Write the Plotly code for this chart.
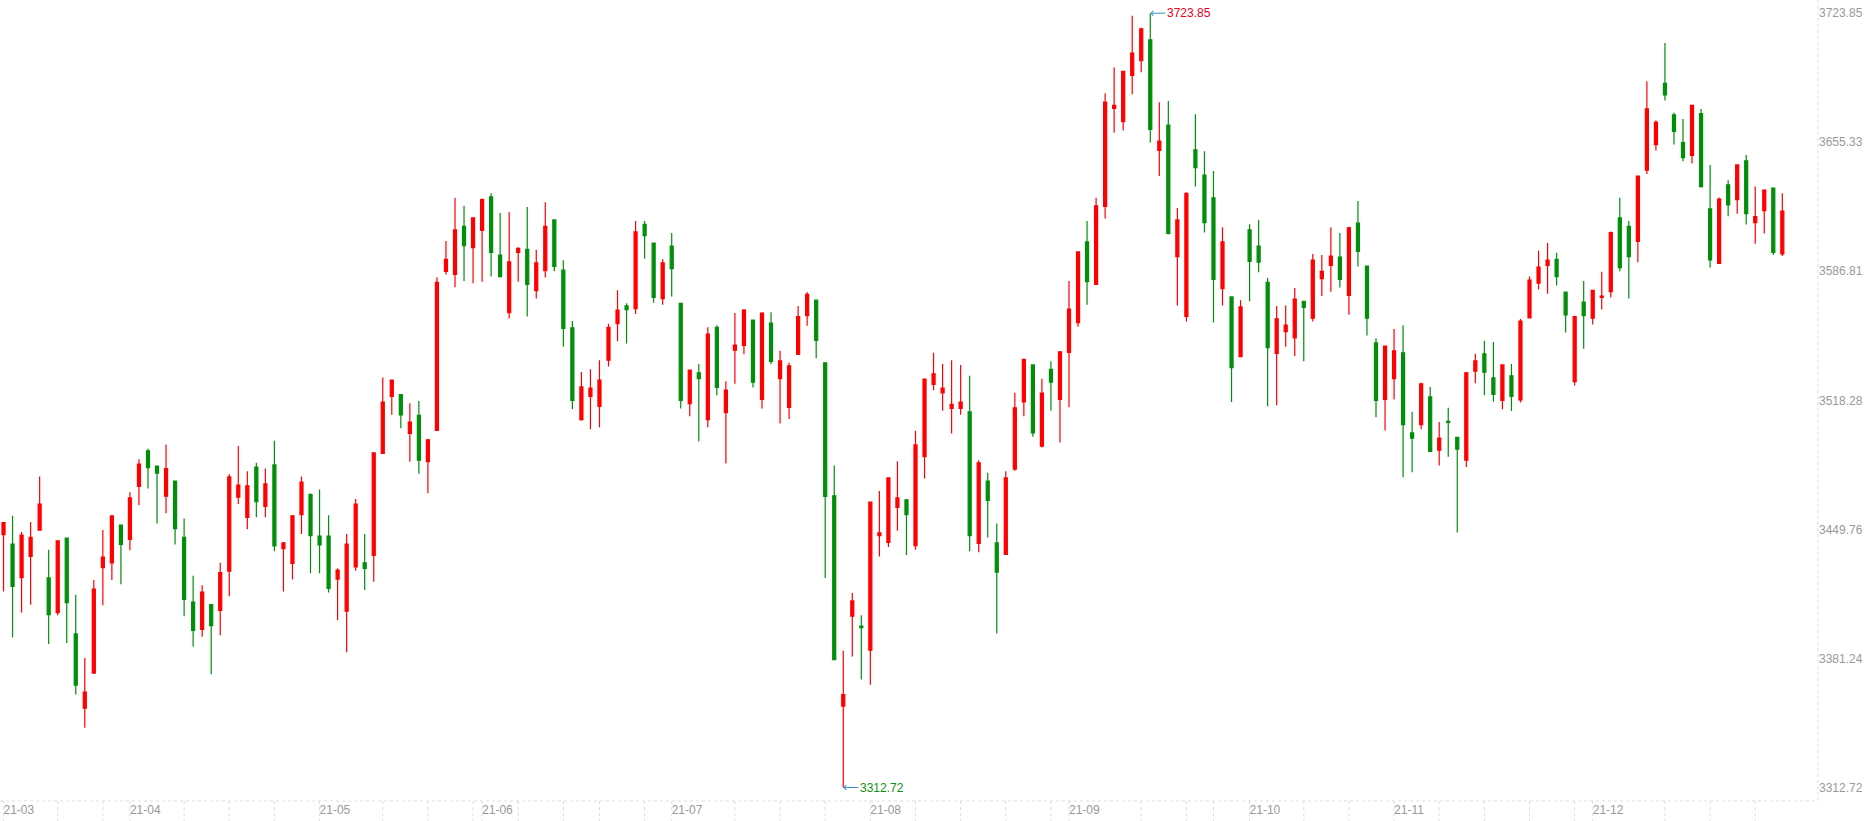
import plotly.graph_objects as go
import pandas as pd

# trading calendar, SSE 2021-03-12 .. 2021-12-30
holidays = ["2021-04-05", "2021-05-03", "2021-05-04", "2021-05-05", "2021-06-14",
            "2021-09-20", "2021-09-21", "2021-10-01", "2021-10-04", "2021-10-05",
            "2021-10-06", "2021-10-07"]
dates = [d for d in pd.bdate_range("2021-03-12", "2021-12-30")
         if d.strftime("%Y-%m-%d") not in holidays]

opens = [3447.0, 3442.0, 3424.2, 3435.4, 3449.3, 3424.0, 3405.6, 3445.1, 3394.3, 3354.8,
         3373.4, 3429.5, 3432.0, 3452.0, 3444.5, 3472.6, 3491.5, 3483.4, 3467.4, 3475.4,
         3445.6, 3411.2, 3396.7, 3409.8, 3406.7, 3427.6, 3466.9, 3456.2, 3482.9, 3462.0,
         3484.0, 3439.5, 3431.7, 3457.6, 3468.2, 3446.2, 3446.2, 3423.4, 3406.4, 3429.8,
         3432.0, 3435.9, 3490.1, 3520.4, 3521.3, 3500.7, 3510.3, 3485.7, 3502.3, 3586.8,
         3585.1, 3610.7, 3599.3, 3608.5, 3626.3, 3595.4, 3564.8, 3596.8, 3598.5, 3576.5,
         3587.1, 3614.1, 3587.4, 3556.8, 3508.1, 3520.4, 3515.1, 3539.6, 3559.0, 3568.4,
         3567.0, 3611.8, 3601.8, 3572.3, 3600.2, 3569.8, 3516.5, 3532.9, 3508.1, 3557.1,
         3511.7, 3544.9, 3547.4, 3560.9, 3518.8, 3559.3, 3529.8, 3514.6, 3542.7, 3563.2,
         3571.5, 3538.2, 3467.6, 3355.9, 3403.7, 3398.4, 3385.6, 3446.5, 3442.9, 3461.5,
         3465.4, 3441.2, 3488.4, 3526.8, 3522.3, 3514.0, 3514.0, 3512.2, 3442.3, 3475.4,
         3442.6, 3436.5, 3481.8, 3517.4, 3537.1, 3494.0, 3534.8, 3518.8, 3543.8, 3559.6,
         3602.4, 3579.9, 3621.3, 3673.3, 3666.3, 3690.8, 3698.6, 3709.7, 3651.0, 3664.4,
         3594.6, 3562.8, 3651.3, 3637.9, 3625.8, 3577.6, 3573.2, 3541.5, 3608.8, 3600.2,
         3581.0, 3543.2, 3554.8, 3551.5, 3570.9, 3561.9, 3582.9, 3589.9, 3594.3, 3574.0,
         3612.4, 3589.6, 3548.8, 3518.8, 3529.8, 3543.5, 3501.0, 3505.4, 3520.1, 3491.8,
         3507.1, 3498.7, 3486.5, 3533.8, 3543.0, 3530.2, 3518.2, 3531.3, 3518.5, 3562.0,
         3580.5, 3589.9, 3593.2, 3575.7, 3528.2, 3570.4, 3561.9, 3572.9, 3576.0, 3615.2,
         3610.7, 3602.7, 3640.5, 3654.1, 3686.6, 3669.9, 3655.2, 3648.3, 3670.5, 3619.9,
         3591.0, 3632.7, 3624.9, 3645.5, 3612.7, 3619.0, 3631.0, 3596.0]
highs = [3453.6, 3457.0, 3448.4, 3453.7, 3477.9, 3439.0, 3443.7, 3445.1, 3415.1, 3381.5,
         3422.9, 3449.5, 3457.0, 3452.0, 3469.5, 3487.0, 3492.6, 3483.4, 3494.8, 3475.4,
         3455.6, 3425.1, 3420.1, 3409.8, 3432.0, 3479.0, 3494.0, 3480.7, 3485.1, 3482.1,
         3496.8, 3443.1, 3457.0, 3477.9, 3469.0, 3470.9, 3457.3, 3429.2, 3447.3, 3465.9,
         3447.3, 3490.4, 3530.4, 3529.0, 3521.3, 3516.8, 3517.9, 3497.9, 3583.7, 3602.9,
         3625.8, 3621.6, 3615.2, 3625.5, 3628.2, 3617.7, 3618.3, 3599.6, 3621.0, 3598.2,
         3623.5, 3614.1, 3592.7, 3560.4, 3533.4, 3534.8, 3539.6, 3559.0, 3576.7, 3569.8,
         3613.5, 3613.5, 3601.8, 3593.2, 3607.1, 3569.8, 3534.3, 3537.6, 3557.1, 3558.2,
         3528.4, 3564.6, 3566.8, 3560.9, 3565.1, 3565.1, 3544.6, 3538.2, 3568.4, 3575.8,
         3571.5, 3538.2, 3483.7, 3385.3, 3416.0, 3404.2, 3464.3, 3470.1, 3477.1, 3485.9,
         3465.9, 3502.1, 3529.6, 3543.5, 3537.6, 3539.6, 3537.1, 3531.3, 3486.5, 3479.8,
         3452.9, 3480.7, 3522.3, 3540.1, 3537.1, 3529.8, 3539.0, 3544.1, 3581.6, 3597.1,
         3613.5, 3625.8, 3681.3, 3695.0, 3693.0, 3722.5, 3716.1, 3723.85, 3676.6, 3677.2,
         3620.4, 3628.8, 3670.2, 3650.5, 3640.0, 3610.2, 3573.2, 3571.5, 3611.8, 3614.1,
         3583.3, 3568.4, 3568.7, 3577.9, 3570.9, 3596.0, 3595.4, 3610.2, 3607.1, 3610.5,
         3624.1, 3589.6, 3551.2, 3547.1, 3556.2, 3558.2, 3512.2, 3527.6, 3525.4, 3506.8,
         3514.3, 3498.7, 3533.4, 3543.0, 3549.9, 3549.3, 3537.1, 3537.6, 3561.5, 3584.0,
         3597.7, 3601.8, 3596.6, 3575.7, 3563.2, 3581.6, 3576.7, 3586.6, 3607.9, 3625.8,
         3613.5, 3637.4, 3687.7, 3666.9, 3708.0, 3671.0, 3667.7, 3674.9, 3673.0, 3643.3,
         3626.0, 3635.2, 3643.3, 3648.6, 3631.8, 3630.4, 3631.0, 3628.2]
lows = [3416.8, 3392.3, 3405.6, 3409.8, 3449.3, 3388.9, 3404.2, 3389.5, 3362.1, 3344.5,
        3373.4, 3409.5, 3422.9, 3420.7, 3438.7, 3462.6, 3471.5, 3452.9, 3458.4, 3441.8,
        3403.7, 3387.5, 3392.8, 3372.8, 3393.6, 3414.3, 3463.2, 3449.8, 3456.2, 3456.2,
        3438.1, 3416.8, 3423.1, 3447.3, 3426.5, 3426.5, 3416.2, 3401.5, 3384.5, 3427.8,
        3417.6, 3422.0, 3490.1, 3510.6, 3503.5, 3485.7, 3479.3, 3469.0, 3502.3, 3585.1,
        3578.4, 3581.6, 3580.5, 3581.3, 3584.0, 3584.0, 3561.7, 3581.3, 3562.8, 3572.3,
        3583.5, 3586.8, 3546.8, 3513.5, 3507.5, 3502.9, 3504.0, 3536.3, 3549.6, 3548.5,
        3564.2, 3593.5, 3570.1, 3569.0, 3573.4, 3514.0, 3509.8, 3496.5, 3504.0, 3521.0,
        3484.8, 3527.1, 3542.7, 3525.1, 3514.0, 3537.4, 3506.0, 3508.4, 3542.7, 3557.9,
        3540.7, 3424.0, 3380.6, 3312.72, 3382.3, 3370.0, 3367.3, 3435.4, 3440.4, 3449.0,
        3436.2, 3439.0, 3476.8, 3523.7, 3512.8, 3500.7, 3510.6, 3438.1, 3437.6, 3445.4,
        3394.5, 3436.5, 3480.9, 3509.8, 3499.0, 3493.2, 3512.8, 3495.9, 3514.6, 3557.4,
        3569.0, 3579.9, 3614.9, 3660.5, 3661.6, 3680.8, 3692.5, 3655.2, 3637.4, 3606.3,
        3568.7, 3560.1, 3631.8, 3607.4, 3559.6, 3568.7, 3517.4, 3541.5, 3570.9, 3586.3,
        3515.1, 3515.7, 3546.8, 3541.8, 3539.0, 3560.1, 3573.7, 3576.0, 3578.2, 3563.8,
        3589.4, 3552.7, 3509.3, 3502.3, 3518.8, 3477.4, 3480.1, 3502.9, 3491.2, 3483.7,
        3488.4, 3448.1, 3482.9, 3527.4, 3521.0, 3517.6, 3513.5, 3512.6, 3517.1, 3562.0,
        3577.1, 3574.9, 3579.3, 3554.3, 3526.2, 3545.7, 3558.5, 3566.5, 3572.9, 3586.8,
        3572.3, 3591.6, 3638.5, 3651.0, 3677.5, 3654.1, 3645.2, 3644.1, 3631.3, 3588.8,
        3591.0, 3616.0, 3617.4, 3611.6, 3601.5, 3606.9, 3595.4, 3594.9]
closes = [3453.4, 3419.5, 3446.8, 3445.6, 3463.2, 3404.5, 3443.7, 3410.9, 3367.1, 3363.4,
          3418.1, 3435.1, 3457.0, 3441.8, 3466.5, 3484.5, 3482.6, 3479.6, 3482.1, 3450.1,
          3412.6, 3396.2, 3416.5, 3398.7, 3426.8, 3477.6, 3473.3, 3472.9, 3464.5, 3474.0,
          3441.0, 3442.6, 3457.0, 3474.9, 3446.5, 3441.5, 3418.4, 3428.1, 3442.0, 3463.2,
          3429.0, 3490.4, 3517.4, 3529.0, 3510.6, 3506.8, 3486.5, 3497.3, 3581.0, 3593.2,
          3608.8, 3600.4, 3615.2, 3624.9, 3596.8, 3584.0, 3591.8, 3599.0, 3579.9, 3591.3,
          3610.7, 3589.4, 3556.5, 3518.2, 3525.4, 3524.8, 3529.0, 3557.1, 3566.2, 3566.5,
          3607.7, 3605.7, 3572.9, 3591.3, 3588.2, 3518.2, 3534.3, 3529.8, 3553.4, 3525.1,
          3523.7, 3547.6, 3566.2, 3527.9, 3564.6, 3539.0, 3539.3, 3536.6, 3562.7, 3574.6,
          3550.1, 3467.3, 3380.6, 3362.1, 3411.8, 3397.6, 3464.3, 3447.9, 3477.1, 3466.5,
          3457.6, 3494.6, 3529.6, 3532.4, 3524.8, 3516.2, 3517.4, 3446.5, 3485.1, 3465.1,
          3427.0, 3477.1, 3514.3, 3540.1, 3501.0, 3522.1, 3527.9, 3544.1, 3566.8, 3597.1,
          3581.3, 3621.6, 3676.6, 3674.9, 3693.0, 3702.7, 3715.5, 3662.2, 3656.0, 3606.9,
          3614.1, 3628.2, 3641.9, 3612.7, 3582.5, 3602.4, 3535.7, 3567.9, 3592.1, 3591.6,
          3546.3, 3561.6, 3558.2, 3572.1, 3567.6, 3592.7, 3586.8, 3594.9, 3582.5, 3609.9,
          3597.4, 3561.9, 3518.2, 3547.1, 3544.6, 3505.4, 3498.2, 3527.1, 3491.2, 3498.2,
          3506.6, 3492.4, 3532.9, 3539.3, 3533.2, 3521.5, 3537.1, 3520.4, 3560.4, 3582.1,
          3589.1, 3592.7, 3584.0, 3563.7, 3562.7, 3563.2, 3576.7, 3573.7, 3607.4, 3588.8,
          3594.6, 3637.4, 3673.0, 3666.0, 3680.5, 3661.1, 3647.2, 3674.9, 3631.8, 3592.9,
          3625.2, 3622.1, 3643.3, 3617.4, 3615.8, 3629.9, 3596.8, 3618.8]

ytick_vals = [3312.72, 3381.24, 3449.76, 3518.28, 3586.81, 3655.33, 3723.85]

UP = "#ff0000"
DOWN = "#008f0a"
GRID = "#dddddd"

idx = list(range(len(dates)))

# month labels + weekly ticks, like the source terminal does
tick_pos, tick_txt = [], []
last_month = None
last_week = None
month_i = -99
for i, d in enumerate(dates):
    wk = d.isocalendar()[1]
    if d.month != last_month:
        tick_pos.append(i)
        tick_txt.append(d.strftime("%y-%m"))
        month_i = i
    elif wk != last_week and i - month_i > 3:
        tick_pos.append(i)
        tick_txt.append("")
    last_month = d.month
    last_week = wk

fig = go.Figure()
fig.add_trace(go.Candlestick(
    x=idx, open=opens, high=highs, low=lows, close=closes,
    increasing=dict(line=dict(color=UP, width=1.2), fillcolor=UP),
    decreasing=dict(line=dict(color=DOWN, width=1.2), fillcolor=DOWN),
    whiskerwidth=0,
    showlegend=False,
))

# high / low markers
imax = highs.index(max(highs))
imin = lows.index(min(lows))
fig.add_annotation(x=imax, y=highs[imax], text=f"{highs[imax]:.2f}",
                   showarrow=True, arrowhead=4, arrowsize=0.9, arrowwidth=1,
                   arrowcolor="#3a8fc4", ax=15, ay=0, xanchor="left",
                   font=dict(color="#e8001c", size=12))
fig.add_annotation(x=imin, y=lows[imin], text=f"{lows[imin]:.2f}",
                   showarrow=True, arrowhead=4, arrowsize=0.9, arrowwidth=1,
                   arrowcolor="#3a8fc4", ax=15, ay=0, xanchor="left",
                   font=dict(color="#109010", size=12))

# dotted frame lines and tick marks
fig.add_shape(type="line", xref="paper", yref="paper", x0=0, x1=1, y0=0, y1=0,
              line=dict(color=GRID, width=1, dash="dot"))
fig.add_shape(type="line", xref="paper", yref="paper", x0=1, x1=1, y0=0, y1=1,
              line=dict(color=GRID, width=1, dash="dot"))
for p in tick_pos:
    fig.add_shape(type="line", xref="x", yref="paper", x0=p, x1=p, y0=0, y1=-0.027,
                  line=dict(color=GRID, width=1, dash="dot"))

fig.update_layout(
    width=1876, height=821, autosize=False,
    paper_bgcolor="white", plot_bgcolor="white",
    margin=dict(l=0, r=58, t=0, b=20),
    font=dict(family="Liberation Sans, Arial, sans-serif", size=12, color="#999999"),
    boxgap=0.52,
    hovermode=False,
)
fig.update_xaxes(
    range=[-0.39, 200.95], rangeslider_visible=False,
    tickmode="array", tickvals=tick_pos, ticktext=tick_txt,
    ticklabelposition="outside right",
    showgrid=False, zeroline=False, showline=False, ticks="",
    tickfont=dict(color="#999999", size=12),
)
fig.update_yaxes(
    side="right", range=[3305.55, 3730.86],
    tickmode="array", tickvals=ytick_vals, ticktext=[f"{v:.2f}" for v in ytick_vals],
    showgrid=False, zeroline=False, showline=False, ticks="",
    tickfont=dict(color="#999999", size=12),
)

fig.write_html("out.html", config={"displayModeBar": False},
               post_script="document.body.style.margin='0px';"
                           "document.body.style.overflow='hidden';")
